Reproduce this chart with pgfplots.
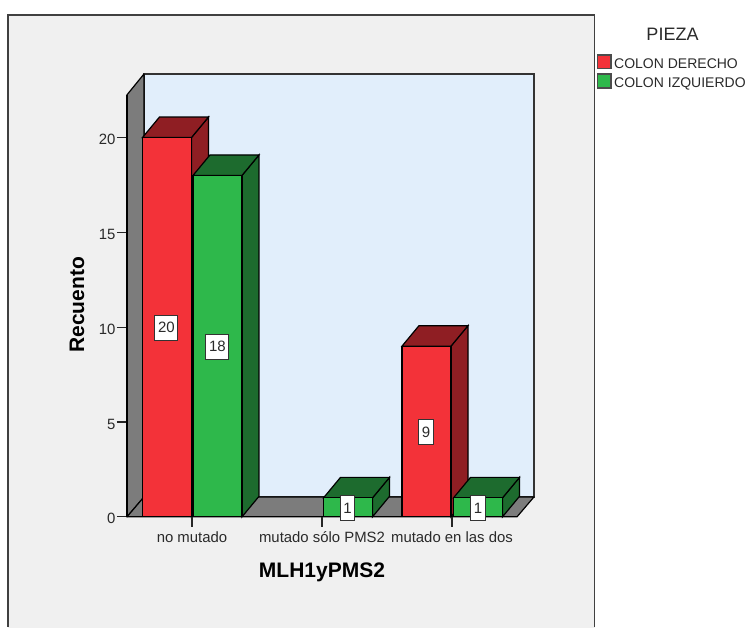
\documentclass[border=0pt]{standalone}
\usepackage{pgfplots}
\pgfplotsset{compat=1.18}
\usepackage{fontspec}
\setmainfont{Liberation Sans}
\definecolor{panel}{HTML}{F0F0F0}
\definecolor{backwall}{HTML}{E1EEFB}
\definecolor{wall}{HTML}{7C7C7C}
\definecolor{rojo}{HTML}{F33239}
\definecolor{rojoosc}{HTML}{8F1E23}
\definecolor{verde}{HTML}{2EB84B}
\definecolor{verdeosc}{HTML}{1D6B2E}
\definecolor{texto}{HTML}{2A2A2A}
\newcommand{\fs}[1]{\fontsize{#1}{#1}\selectfont}
\begin{document}
\begin{tikzpicture}
\begin{axis}[
  scale only axis, width=390pt, height=422pt,
  xmin=127, xmax=517, ymin=0, ymax=22.25,
  clip=false, axis on top=true,
  axis x line=bottom, axis y line=left,
  axis line style={-, black, line width=1.2pt},
  tick style={black!85, line width=1.1pt},
  tick align=outside, major tick length=10pt,
  xtick={192,322,452}, ytick={0,5,10,15,20},
  xticklabels={no mutado, mutado sólo PMS2, mutado en las dos},
  /pgf/number format/assume math mode=true,
  tick label style={font=\fs{14.9}, text=texto},
  xticklabel style={yshift=-1.5pt},
  yticklabel style={xshift=2pt, yshift=-2pt},
]
% sheet, chart panel and the three walls of the box
\path[fill=white] (axis cs:0,-5.85) rectangle (axis cs:748,27.25);
\fill[panel] (axis cs:8,-5.85) rectangle (axis cs:594.5,26.46);
\draw[draw=black!75, line width=1.4pt] (axis cs:8,-5.8) -- (axis cs:8,26.46) -- (axis cs:594.5,26.46) -- (axis cs:594.5,-5.8);
\filldraw[fill=backwall, draw=black!80, line width=1.3pt] (axis cs:144,1.05) rectangle (axis cs:534,23.35);
\filldraw[fill=wall, draw=black, line width=1.2pt, line join=round] (axis cs:127,0) -- (axis cs:127,22.25) -- (axis cs:144,23.35) -- (axis cs:144,1.05) -- cycle;
\filldraw[fill=wall, draw=black, line width=1.2pt, line join=round] (axis cs:127,0) -- (axis cs:517,0) -- (axis cs:534,1.05) -- (axis cs:144,1.05) -- cycle;

% no mutado, colon derecho: 20
\addplot[fill=rojoosc, draw=black, line width=1.2pt] coordinates {(191.5,20) (208.5,21.08) (208.5,1.08) (191.5,0)} -- cycle;
\addplot[fill=rojoosc, draw=black, line width=1.2pt] coordinates {(142.5,20) (159.5,21.08) (208.5,21.08) (191.5,20)} -- cycle;
\addplot[ybar, bar width=49pt, bar shift=0pt, fill=rojo, draw=black, line width=1.2pt] coordinates {(167,20)};
% no mutado, colon izquierdo: 18
\addplot[fill=verdeosc, draw=black, line width=1.2pt] coordinates {(242,18) (259,19.08) (259,1.08) (242,0)} -- cycle;
\addplot[fill=verdeosc, draw=black, line width=1.2pt] coordinates {(193,18) (210,19.08) (259,19.08) (242,18)} -- cycle;
\addplot[ybar, bar width=49pt, bar shift=0pt, fill=verde, draw=black, line width=1.2pt] coordinates {(217.5,18)};
% mutado solo PMS2, colon izquierdo: 1
\addplot[fill=verdeosc, draw=black, line width=1.2pt] coordinates {(372.5,1) (389.5,2.08) (389.5,1.08) (372.5,0)} -- cycle;
\addplot[fill=verdeosc, draw=black, line width=1.2pt] coordinates {(323.5,1) (340.5,2.08) (389.5,2.08) (372.5,1)} -- cycle;
\addplot[ybar, bar width=49pt, bar shift=0pt, fill=verde, draw=black, line width=1.2pt] coordinates {(348,1)};
% mutado en las dos, colon derecho: 9
\addplot[fill=rojoosc, draw=black, line width=1.2pt] coordinates {(451,9) (468,10.08) (468,1.08) (451,0)} -- cycle;
\addplot[fill=rojoosc, draw=black, line width=1.2pt] coordinates {(402,9) (419,10.08) (468,10.08) (451,9)} -- cycle;
\addplot[ybar, bar width=49pt, bar shift=0pt, fill=rojo, draw=black, line width=1.2pt] coordinates {(426.5,9)};
% mutado en las dos, colon izquierdo: 1
\addplot[fill=verdeosc, draw=black, line width=1.2pt] coordinates {(502.5,1) (519.5,2.08) (519.5,1.08) (502.5,0)} -- cycle;
\addplot[fill=verdeosc, draw=black, line width=1.2pt] coordinates {(453.5,1) (470.5,2.08) (519.5,2.08) (502.5,1)} -- cycle;
\addplot[ybar, bar width=49pt, bar shift=0pt, fill=verde, draw=black, line width=1.2pt] coordinates {(478,1)};

% count labels at half the height of each bar
\addplot[draw=none, mark=none, point meta=explicit,
  nodes near coords={\pgfmathprintnumber{\pgfplotspointmeta}},
  nodes near coords style={anchor=center, fill=white, draw=black!80, line width=1pt, yshift=-0.5pt,
    font=\fs{15}, text=texto, inner sep=0pt, minimum height=25pt, minimum width=14.5pt}]
  coordinates {(347.5,0.5)[1] (426,4.5)[9] (478,0.5)[1]};
\addplot[draw=none, mark=none, point meta=explicit,
  nodes near coords={\pgfmathprintnumber{\pgfplotspointmeta}},
  nodes near coords style={anchor=center, fill=white, draw=black!80, line width=1pt, yshift=-0.5pt,
    font=\fs{15}, text=texto, inner sep=0pt, minimum height=25pt, minimum width=23pt}]
  coordinates {(166.5,10)[20] (217.5,9)[18]};

% axis titles
\node[font=\bfseries\fs{21}, text=black] at (axis cs:322,-2.95) {MLH1yPMS2};
\node[font=\bfseries\fs{21}, text=black, rotate=90] at (axis cs:77,11.18) {Recuento};

% legend
\node[font=\fs{18}, text=texto] at (axis cs:672.5,25.46) {PIEZA};
\filldraw[fill=rojo, draw=black!70, line width=1.1pt] (axis cs:597.5,24.35) rectangle (axis cs:611,23.62);
\filldraw[fill=verde, draw=black!70, line width=1.1pt] (axis cs:597.5,23.35) rectangle (axis cs:611,22.61);
\node[anchor=west, font=\fs{14}, text=texto, inner sep=0pt] at (axis cs:614,23.88) {COLON DERECHO};
\node[anchor=west, font=\fs{14}, text=texto, inner sep=0pt] at (axis cs:614,22.8) {COLON IZQUIERDO};
\end{axis}
\end{tikzpicture}
\end{document}
